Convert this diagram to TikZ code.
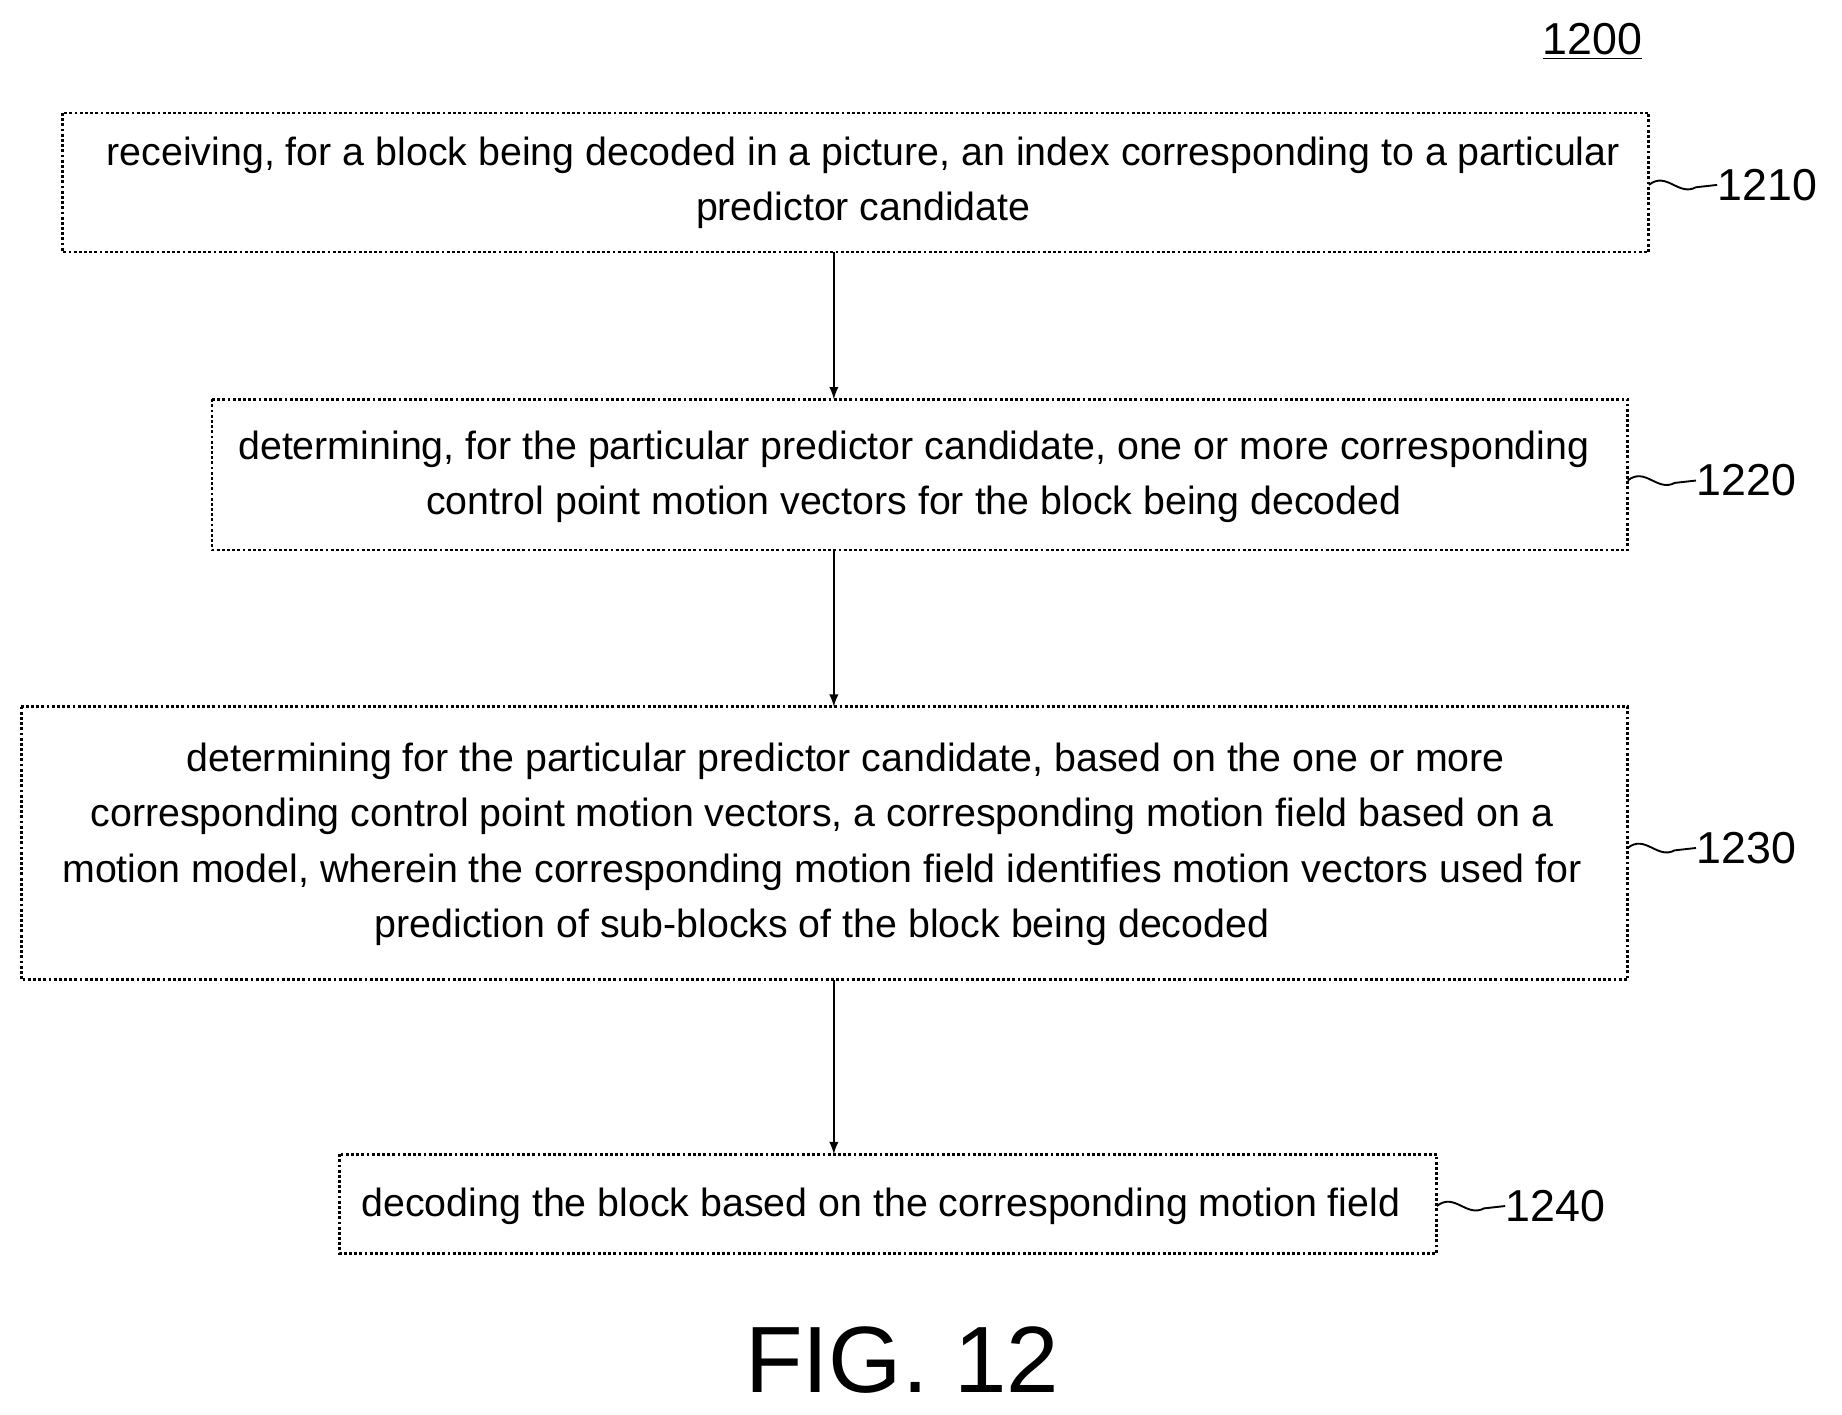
\documentclass[tikz,border=0pt]{standalone}
\usepackage{fontspec}
\setmainfont{Liberation Sans}
\begin{document}
\begin{tikzpicture}[x=0.5pt,y=-0.5pt,
 box/.style={draw,line width=1.2pt,densely dotted,inner sep=0pt},
 txt/.style={align=center,font=\fontsize{16.7}{23.5}\selectfont},
 lab/.style={font=\fontsize{19}{20}\selectfont,anchor=west,inner sep=0pt},
 arr/.style={-latex,line width=0.8pt},
 sq/.style={line width=0.8pt}]
\useasboundingbox (0,0) rectangle (1564,1201);
\draw[box] (53,96) rectangle (1400,214);
\node[txt] (t1) at (733,155) {receiving, for a block being decoded in a picture, an index corresponding to a particular\\predictor candidate};
\draw[box] (180,339) rectangle (1382,467);
\node[txt] (t2) at (776,405) {determining, for the particular predictor candidate, one or more corresponding\\control point motion vectors for the block being decoded};
\draw[box] (18,600) rectangle (1382,832);
\node[txt] (t3) at (698,717) {\hspace*{1.2em}determining for the particular predictor candidate, based on the one or more\\corresponding control point motion vectors, a corresponding motion field based on a\\motion model, wherein the corresponding motion field identifies motion vectors used for\\prediction of sub-blocks of the block being decoded};
\draw[box] (288,980) rectangle (1220,1064);
\node[txt] (t4) at (748,1024) {decoding the block based on the corresponding motion field};
\coordinate (a1) at (708,214); \coordinate (a2) at (708,339);
\coordinate (a3) at (708,467); \coordinate (a4) at (708,600);
\coordinate (a5) at (708,832); \coordinate (a6) at (708,980);
\draw[arr] (a1)--(a2); \draw[arr] (a3)--(a4); \draw[arr] (a5)--(a6);
\foreach \x/\y/\n in {1400/157/1210,1382/408/1220,1382/720/1230,1220/1024/1240}{
 \draw[sq] (\x,\y) .. controls (\x+15,\y-12) and (\x+25,\y+10) .. (\x+40,\y+2) -- (\x+58,\y);
 \node[lab] (L\n) at (\x+58,\y) {\n};}
\node[font=\fontsize{19}{20}\selectfont] (n1200) at (1352,35) {\underline{1200}};
\node[font=\fontsize{40}{42}\selectfont] (fig) at (766,1155) {FIG. 12};
\end{tikzpicture}
\end{document}
